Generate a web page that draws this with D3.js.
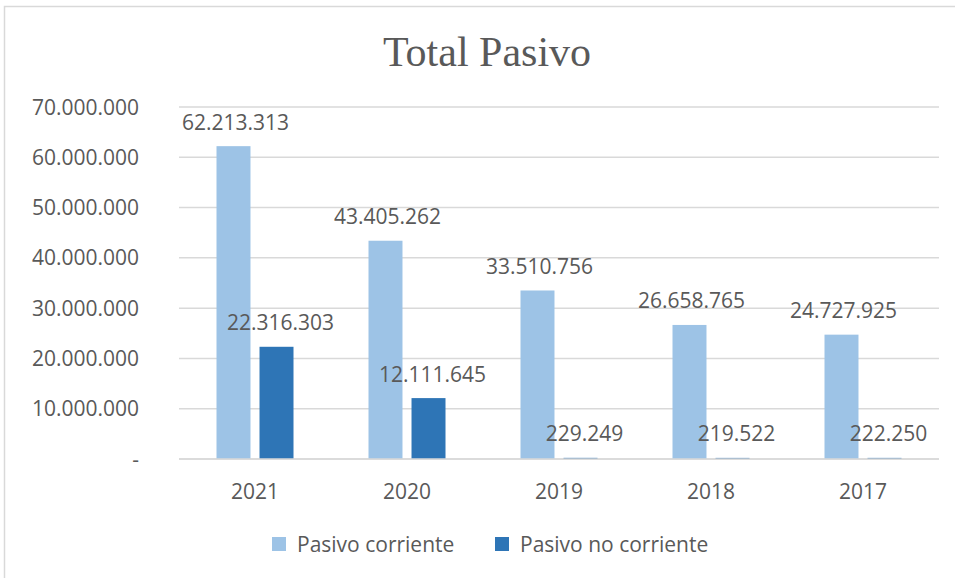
<!DOCTYPE html>
<html>
<head>
<meta charset="utf-8">
<script src="https://cdn.jsdelivr.net/npm/d3@7"></script>
<style>
  body { margin: 0; background: #fff; }
  svg text { font-family: "Open Sans", sans-serif; fill: #595959; }
</style>
</head>
<body>
<svg id="chart" width="955" height="578"></svg>
<script>
const years = ["2021", "2020", "2019", "2018", "2017"];
const corriente = [62213313, 43405262, 33510756, 26658765, 24727925];
const noCorriente = [22316303, 12111645, 229249, 219522, 222250];
const seriesNames = ["Pasivo corriente", "Pasivo no corriente"];
const colors = ["#9DC3E6", "#2E75B6"];
const yTicks = [0, 10000000, 20000000, 30000000, 40000000, 50000000, 60000000, 70000000];

const locale = d3.formatLocale({ decimal: ",", thousands: ".", grouping: [3], currency: ["", ""] });
const fmt = locale.format(",d");

const svg = d3.select("#chart");

// outer frame
svg.append("rect")
    .attr("x", 4.5).attr("y", 6.5)
    .attr("width", 1000).attr("height", 600)
    .attr("fill", "none").attr("stroke", "#d9d9d9").attr("stroke-width", 1.5);

svg.append("text")
    .attr("x", 487).attr("y", 66)
    .attr("text-anchor", "middle")
    .style("font-family", "'Liberation Serif', 'Times New Roman', serif")
    .style("font-size", "42px")
    .text("Total Pasivo");

const plotLeft = 179, plotRight = 939, plotTop = 107, plotBottom = 459;

const x = d3.scaleBand().domain(years).range([plotLeft, plotRight]);
const x1 = d3.scaleBand().domain([0, 1]).range([0, 77]).paddingInner(0.21);
const y = d3.scaleLinear().domain([0, 70000000]).range([plotBottom, plotTop]);

// gridlines
svg.append("g").selectAll("line").data(yTicks).join("line")
    .attr("x1", plotLeft).attr("x2", plotRight)
    .attr("y1", d => y(d)).attr("y2", d => y(d))
    .attr("stroke", "#d9d9d9").attr("stroke-width", 1.5);

// y labels
svg.append("g").selectAll("text").data(yTicks).join("text")
    .attr("x", 139).attr("y", d => y(d) + 7.5)
    .attr("text-anchor", "end")
    .style("font-size", "21px")
    .text(d => d === 0 ? "-" : fmt(d));

const series = [corriente, noCorriente];
const groupOffset = (x.bandwidth() - 77) / 2;

series.forEach((vals, s) => {
    const g = svg.append("g");
    g.selectAll("rect").data(vals).join("rect")
        .attr("x", (d, i) => x(years[i]) + groupOffset + x1(s))
        .attr("width", x1.bandwidth())
        .attr("y", d => y(d))
        .attr("height", d => plotBottom - y(d))
        .attr("fill", colors[s]);
    g.selectAll("text").data(vals).join("text")
        .attr("x", (d, i) => x(years[i]) + groupOffset + x1(s) + x1.bandwidth() / 2 + (s === 1 ? 4 : 2))
        .attr("y", d => y(d) - 16.5)
        .attr("text-anchor", "middle")
        .style("font-size", "21px")
        .text(d => fmt(d));
});

// baseline
svg.append("line")
    .attr("x1", plotLeft).attr("x2", plotRight)
    .attr("y1", plotBottom).attr("y2", plotBottom)
    .attr("stroke", "#d9d9d9").attr("stroke-width", 1.5);

// x labels
svg.append("g").selectAll("text").data(years).join("text")
    .attr("x", d => x(d) + x.bandwidth() / 2)
    .attr("y", 498.5)
    .attr("text-anchor", "middle")
    .style("font-size", "21px")
    .text(d => d);

// legend
const legendX = [272, 495];
const legend = svg.append("g").selectAll("g").data(seriesNames).join("g")
    .attr("transform", (d, i) => `translate(${legendX[i]},537)`);
legend.append("rect").attr("width", 14).attr("height", 14).attr("fill", (d, i) => colors[i]);
legend.append("text").attr("x", 25).attr("y", 14.5).style("font-size", "21px").text(d => d);
</script>
</body>
</html>
